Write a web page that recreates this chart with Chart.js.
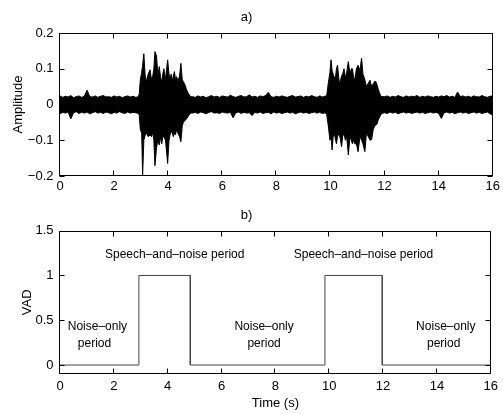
<!DOCTYPE html>
<html><head><meta charset="utf-8">
<script src="https://cdn.jsdelivr.net/npm/chart.js@4.4.1/dist/chart.umd.min.js"></script>
<style>
html,body{margin:0;padding:0;background:#fff;width:503px;height:414px;overflow:hidden}
#wa{position:absolute;left:0;top:0}
#wb{position:absolute;left:0;top:200px}
</style></head><body>
<canvas id="wa" width="503" height="200"></canvas>
<canvas id="wb" width="503" height="214"></canvas>
<script>
const FONT = "'Liberation Sans', Arial, Helvetica, sans-serif";

// ---- tick labels ----
const xTicks = [0, 2, 4, 6, 8, 10, 12, 14, 16];
const ampTicks = [-0.2, -0.1, 0, 0.1, 0.2];
const vadTicks = [0, 0.5, 1, 1.5];

// ---- a) waveform envelope (time in s, upper / lower amplitude) ----
const waveTime = [
  0,0.1,0.2,0.3,0.4,0.5,0.6,0.7,0.8,0.9,1.0,1.1,1.2,1.3,1.4,1.5,1.6,1.7,1.8,1.9,2.0,2.1,2.2,2.3,2.4,2.5,2.6,2.7,2.8,2.9,
  2.93,2.97,3.02,3.055,3.10,3.15,3.20,3.26,3.33,3.38,3.43,3.47,3.51,3.57,3.62,3.67,3.72,3.76,3.80,3.84,
  3.90,3.98,4.03,4.07,4.11,4.15,4.19,4.23,4.27,4.31,4.36,4.42,4.47,4.52,4.56,4.62,4.68,4.74,4.80,4.85,
  4.9,5.0,5.1,5.2,5.3,5.4,5.5,5.6,5.7,5.8,5.9,6.0,6.1,6.2,6.3,6.4,6.5,6.6,6.7,6.8,6.9,7.0,7.1,7.2,7.3,7.4,7.5,7.6,7.7,7.8,
  7.9,8.0,8.1,8.2,8.3,8.4,8.5,8.6,8.7,8.8,8.9,9.0,9.1,9.2,9.3,9.4,9.5,9.6,9.7,9.8,
  9.86,9.92,9.98,10.02,10.06,10.10,10.14,10.19,10.22,10.26,10.32,10.35,10.41,10.45,10.50,10.55,10.60,10.66,10.72,10.77,
  10.81,10.86,10.90,10.96,11.02,11.09,11.15,11.20,11.27,11.33,11.40,11.46,11.52,11.58,11.64,11.68,11.72,11.76,11.80,11.85,11.90,
  12.0,12.1,12.2,12.3,12.4,12.5,12.6,12.7,12.8,12.9,13.0,13.1,13.2,13.3,13.4,13.5,13.6,13.7,13.8,13.9,
  14.0,14.1,14.2,14.3,14.4,14.5,14.6,14.7,14.8,14.9,15.0,15.1,15.2,15.3,15.4,15.5,15.6,15.7,15.8,15.9,16.0
];
const waveTop = [
  .024,.020,.023,.021,.025,.019,.022,.024,.020,.023,.040,.022,.021,.024,.020,.023,.025,.021,.022,.020,.024,.021,.023,.019,.022,.024,.021,.023,.020,.022,
  .030,.070,.090,.110,.142,.080,.065,.085,.097,.070,.080,.100,.148,.135,.080,.106,.075,.065,.085,.100,
  .070,.125,.085,.070,.085,.065,.080,.092,.070,.078,.065,.080,.115,.070,.064,.055,.041,.032,.024,.022,
  .022,.020,.024,.021,.023,.019,.022,.025,.021,.023,.020,.024,.022,.021,.026,.022,.020,.023,.025,.021,.022,.027,.021,.023,.020,.024,.022,.025,.034,.022,
  .020,.023,.021,.024,.022,.020,.023,.025,.021,.022,.024,.020,.023,.021,.025,.022,.020,.024,.021,.023,
  .025,.060,.090,.125,.095,.085,.075,.080,.100,.110,.065,.060,.080,.085,.100,.075,.090,.120,.085,.100,
  .100,.075,.070,.100,.110,.095,.130,.085,.070,.050,.060,.068,.050,.058,.065,.064,.055,.045,.035,.025,.022,
  .022,.024,.020,.023,.021,.025,.022,.020,.024,.021,.023,.022,.025,.020,.023,.021,.024,.022,.020,.023,
  .021,.024,.022,.025,.021,.023,.020,.035,.022,.024,.021,.023,.020,.024,.022,.021,.025,.022,.020,.023,.024
];
const waveBottom = [
  -.026,-.022,-.024,-.021,-.040,-.023,-.020,-.025,-.022,-.024,-.021,-.026,-.023,-.020,-.024,-.022,-.025,-.021,-.023,-.026,-.022,-.024,-.020,-.023,-.025,-.021,-.024,-.022,-.023,-.025,
  -.030,-.070,-.080,-.197,-.100,-.085,-.080,-.090,-.085,-.090,-.080,-.100,-.171,-.120,-.100,-.113,-.090,-.110,-.090,-.090,
  -.100,-.165,-.100,-.085,-.075,-.080,-.090,-.080,-.085,-.070,-.080,-.090,-.104,-.060,-.050,-.045,-.040,-.033,-.026,-.024,
  -.024,-.022,-.025,-.021,-.023,-.026,-.022,-.020,-.024,-.023,-.025,-.021,-.023,-.024,-.022,-.037,-.023,-.021,-.025,-.022,-.024,-.023,-.031,-.022,-.024,-.021,-.025,-.023,-.022,-.026,
  -.021,-.024,-.022,-.025,-.023,-.021,-.024,-.022,-.026,-.023,-.021,-.024,-.022,-.025,-.023,-.021,-.024,-.022,-.025,-.023,
  -.028,-.060,-.100,-.090,-.127,-.090,-.080,-.100,-.110,-.090,-.080,-.090,-.118,-.090,-.080,-.100,-.090,-.141,-.090,-.100,
  -.110,-.100,-.110,-.110,-.132,-.090,-.100,-.110,-.132,-.080,-.090,-.100,-.098,-.070,-.060,-.057,-.055,-.045,-.038,-.030,-.025,
  -.023,-.025,-.021,-.024,-.022,-.026,-.023,-.021,-.024,-.022,-.025,-.023,-.021,-.024,-.022,-.025,-.023,-.021,-.024,-.022,
  -.025,-.039,-.023,-.021,-.024,-.022,-.026,-.023,-.021,-.024,-.022,-.025,-.023,-.021,-.024,-.022,-.025,-.023,-.021,-.026,-.030
];

// ---- b) VAD decision (transition points read from the picture) ----
const vadTime  = [0, 2.93, 2.93, 4.84, 4.84, 9.84, 9.84, 11.97, 11.97, 16];
const vadValue = [0, 0,    1,    1,    0,    0,    1,    1,     0,     0];

// ---- b) annotations ----
const annoText = ['Noise\u2013only', 'period', 'Speech\u2013and\u2013noise period', 'Noise\u2013only', 'period',
                  'Speech\u2013and\u2013noise period', 'Noise\u2013only', 'period'];
const annoX = [1.39, 1.28, 4.26, 7.58, 7.58, 11.27, 14.33, 14.25];
const annoY = [0.392, 0.203, 1.2, 0.392, 0.203, 1.2, 0.392, 0.203];

function fmt(v) {
  const s = String(Math.round(v * 10) / 10);
  return s.replace('-', '\u2212');
}

const boxPlugin = {
  id: 'box',
  afterDatasetsDraw(chart) {
    const {ctx, chartArea: a, scales: {x, y}} = chart;
    ctx.save();
    ctx.strokeStyle = '#000';
    ctx.lineWidth = 1;
    const L = Math.round(a.left) - 0.5, R = Math.round(a.right) - 0.5;
    const T = Math.round(a.top) + 0.5, B = Math.round(a.bottom) - 0.5;
    const tl = 5;
    ctx.beginPath();
    ctx.rect(L, T, R - L, B - T);
    x.ticks.forEach(t => {
      const px = Math.round(x.getPixelForValue(t.value)) - 0.5;
      ctx.moveTo(px, B); ctx.lineTo(px, B - tl);
      ctx.moveTo(px, T); ctx.lineTo(px, T + tl);
    });
    y.ticks.forEach(t => {
      const py = Math.round(y.getPixelForValue(t.value)) + 0.5;
      ctx.moveTo(L, py); ctx.lineTo(L + tl, py);
      ctx.moveTo(R, py); ctx.lineTo(R - tl, py);
    });
    ctx.stroke();
    ctx.restore();
  }
};

const annoPlugin = {
  id: 'anno',
  afterDatasetsDraw(chart) {
    const {ctx, scales: {x, y}} = chart;
    ctx.save();
    ctx.font = '12px ' + FONT;
    ctx.fillStyle = '#000';
    ctx.textAlign = 'center';
    ctx.textBaseline = 'alphabetic';
    annoText.forEach((t, i) => ctx.fillText(t, x.getPixelForValue(annoX[i]), y.getPixelForValue(annoY[i])));
    ctx.restore();
  }
};

function xScale(h, pad, withTitle) {
  return {
    type: 'linear', min: 0, max: 16,
    afterBuildTicks: s => { s.ticks = xTicks.map(v => ({value: v})); },
    afterFit: s => { s.height = h; },
    grid: {display: false, drawTicks: false},
    border: {display: false},
    ticks: {padding: pad, color: '#000', font: {family: FONT, size: 13}, maxRotation: 0, autoSkip: false, callback: v => fmt(v)},
    title: withTitle ? {display: true, text: 'Time (s)', color: '#000', font: {family: FONT, size: 13}, padding: {top: 0, bottom: 2.5}} : {display: false}
  };
}
function yScale(min, max, ticks, label, tpad) {
  return {
    type: 'linear', min: min, max: max,
    afterBuildTicks: s => { s.ticks = ticks.map(v => ({value: v})); },
    afterFit: s => { s.width = 60; },
    grid: {display: false, drawTicks: false},
    border: {display: false},
    ticks: {padding: 6.5, color: '#000', font: {family: FONT, size: 13}, autoSkip: false, callback: v => fmt(v)},
    title: {display: true, text: label, color: '#000', font: {family: FONT, size: 13}, padding: {top: tpad, bottom: 0}}
  };
}
function titleOpt(text, pt, pb) {
  return {display: true, text: text, color: '#000', font: {family: FONT, size: 13, weight: 'normal', lineHeight: 1.2}, padding: {top: pt, bottom: pb}};
}

new Chart(document.getElementById('wa'), {
  type: 'line',
  data: {
    datasets: [
      {data: waveTime.map((t, i) => ({x: t, y: waveTop[i]})), borderColor: '#000', backgroundColor: '#000', borderWidth: 1, pointRadius: 0, fill: '+1', tension: 0},
      {data: waveTime.map((t, i) => ({x: t, y: waveBottom[i]})), borderColor: '#000', backgroundColor: '#000', borderWidth: 1, pointRadius: 0, fill: false, tension: 0}
    ]
  },
  options: {
    responsive: false, animation: false, devicePixelRatio: 1,
    layout: {padding: {left: 0, right: 10, top: 0, bottom: 0}},
    plugins: {legend: {display: false}, tooltip: {enabled: false}, title: titleOpt('a)', 9.7, 7.7)},
    scales: {x: xScale(24, 3, false), y: yScale(-0.2, 0.2, ampTicks, 'Amplitude', 11)}
  },
  plugins: [boxPlugin]
});

new Chart(document.getElementById('wb'), {
  type: 'line',
  data: {
    datasets: [
      {data: vadTime.map((t, i) => ({x: t, y: vadValue[i]})), borderColor: '#444', borderWidth: 1, pointRadius: 0, fill: false, tension: 0}
    ]
  },
  options: {
    responsive: false, animation: false, devicePixelRatio: 1,
    layout: {padding: {left: 0, right: 10, top: 0, bottom: 0}},
    plugins: {legend: {display: false}, tooltip: {enabled: false}, title: titleOpt('b)', 7.5, 7.6)},
    scales: {x: xScale(40, 5, true), y: yScale(-0.1, 1.5, vadTicks, 'VAD', 19.5)}
  },
  plugins: [boxPlugin, annoPlugin]
});
</script>
</body></html>
